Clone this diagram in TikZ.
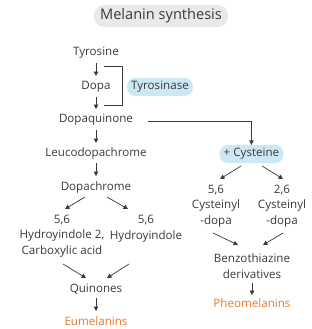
\documentclass[tikz,border=0pt]{standalone}
\usepackage{fontspec}
\setmainfont{Open Sans}
\usetikzlibrary{arrows.meta}
\definecolor{txt}{HTML}{3A3A3A}
\definecolor{pill}{HTML}{E9E9E9}
\definecolor{blue}{HTML}{CDE7F4}
\definecolor{orng}{HTML}{E8792E}
\tikzset{
  lbl/.style={text=txt, font=\fontsize{11.6}{15.5}\selectfont, inner sep=1pt, align=center},
  tag/.style={lbl, fill=blue, minimum height=18pt, rounded corners=8pt, inner xsep=4pt, inner ysep=1pt},
  fin/.style={lbl, text=orng},
  arr/.style={draw=txt, line width=0.7pt, -{Triangle[length=4.5pt,width=4.5pt]}},
  ln/.style={draw=txt, line width=0.7pt}
}
\begin{document}
\begin{tikzpicture}[x=1pt,y=-1pt]
\useasboundingbox (0,0) rectangle (311,329);
\node[lbl, fill=pill, rounded corners=10pt, minimum height=22pt, inner xsep=6pt, inner ysep=1pt, font=\fontsize{14.6}{17}\selectfont] (title) at (161,16) {Melanin synthesis};
\node[lbl] (tyr) at (96,53) {Tyrosine};
\node[lbl] (dopa) at (96,87) {Dopa};
\node[lbl] (dq) at (96,120) {Dopaquinone};
\node[lbl] (leu) at (96,153) {Leucodopachrome};
\node[lbl] (dc) at (96,187) {Dopachrome};
\node[lbl] (hic) at (62,236) {5,6\\Hydroyindole 2,\\Carboxylic acid};
\node[lbl] (hi) at (146,228.5) {5,6\\Hydroyindole};
\node[lbl] (qu) at (96,289) {Quinones};
\node[fin] (eu) at (96,321) {Eumelanins};
\node[tag] (tyrase) at (160,87) {Tyrosinase};
\node[tag] (cys) at (251.5,154) {+ Cysteine};
\node[lbl] (c56) at (216,206) {5,6\\Cysteinyl\\-dopa};
\node[lbl] (c26) at (282,206) {2,6\\Cysteinyl\\-dopa};
\node[lbl] (bz) at (252,266) {Benzothiazine\\derivatives};
\node[fin] (ph) at (252,303) {Pheomelanins};
\coordinate (b1) at (104,66);
\coordinate (b2) at (122,66);
\coordinate (b3) at (122,105);
\coordinate (b4) at (104,105);
\coordinate (corner) at (251.5,121);
\draw[arr] (96,63) -- (96,76);
\draw[arr] (96,97) -- (96,109);
\draw[ln] (b1) -- (b2) -- (b3) -- (b4);
\draw[arr] (96,130) -- (96,143);
\draw[arr] (96,163) -- (96,176);
\draw[ln] (148,121) -- (corner);
\draw[arr] (corner) -- (cys.north);
\draw[arr] (85,197) -- (65,209);
\draw[arr] (107,197) -- (128,209);
\draw[arr] (241,166) -- (220,179);
\draw[arr] (262,166) -- (283,179);
\draw[arr] (63,264) -- (86,278);
\draw[arr] (129,264) -- (107,278);
\draw[arr] (213,233) -- (238,245);
\draw[arr] (283,233) -- (263,245);
\draw[arr] (96,298) -- (96,311);
\draw[arr] (252,283) -- (252,295);
\end{tikzpicture}
\end{document}
